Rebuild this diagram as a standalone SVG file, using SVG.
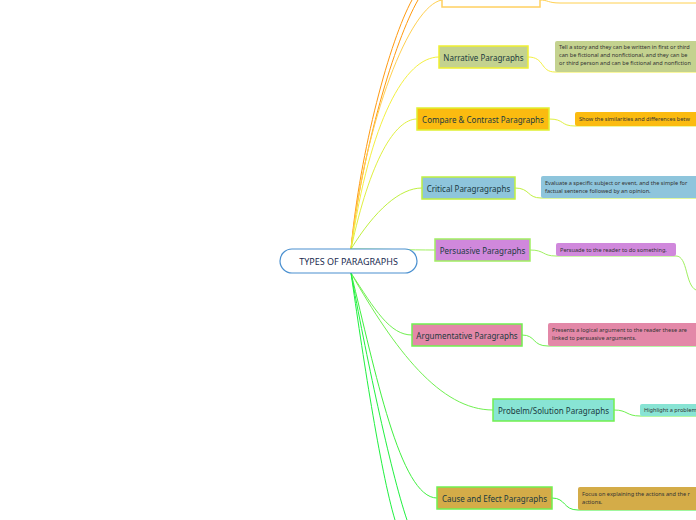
<svg xmlns="http://www.w3.org/2000/svg" width="696" height="520" viewBox="0 0 696 520">
<style>
.n{stroke-width:1.5}
.t{font-family:"Noto Sans","Open Sans",sans-serif;font-size:8px;fill:#1a3a40;text-anchor:middle;dominant-baseline:central}
.d{font-family:"Noto Sans","Open Sans",sans-serif;font-size:5.6px;fill:#333}
.c{fill:none;stroke-width:1}
</style>
<rect width="696" height="520" fill="#fff"/>
<g id="connectors">
<path class="c" stroke="#ff9a10" d="M351,249 C360,150 390,40 412,0"/>
<path class="c" stroke="#ff9a10" d="M351,249 C362,150 395,40 418,0"/>
<path class="c" stroke="#ffd050" d="M351,249 C365,120 410,5 442,0"/>
<path class="c" stroke="#ffd050" d="M540,0 C548,0 548,3 560,3 L696,3"/>
<path class="c" stroke="#f4f040" d="M351,249 C370,120 405,57 439,57"/>
<path class="c" stroke="#f4f040" d="M528,57 C545,57 540,72 555,72 L696,72"/>
<path class="c" stroke="#e0f040" d="M351,249 C370,160 395,119 417,119"/>
<path class="c" stroke="#e0f040" d="M549,119 C565,119 560,126 575,126 L696,126"/>
<path class="c" stroke="#c0f040" d="M351,249 C375,210 400,188 422,188"/>
<path class="c" stroke="#c0f040" d="M515,188 C530,188 527,198 541,198 L696,198"/>
<path class="c" stroke="#a0f060" d="M351,249 C380,249 410,250 435,250"/>
<path class="c" stroke="#a0f060" d="M530,250 C545,250 542,256 556,256 L676,256 C688,256 685,285 696,290"/>
<path class="c" stroke="#70f050" d="M351,273 C375,310 390,335 412,335"/>
<path class="c" stroke="#70f050" d="M522,335 C536,335 532,346 548,346 L696,346"/>
<path class="c" stroke="#70f050" d="M351,273 C395,350 440,410 493,410"/>
<path class="c" stroke="#70f050" d="M614,410 C628,410 626,416 640,416 L696,416"/>
<path class="c" stroke="#40f040" d="M351,273 C375,370 400,498 437,498"/>
<path class="c" stroke="#40f040" d="M552,498 C566,498 563,510 578,510 L696,510"/>
<path class="c" stroke="#20f040" stroke-width="1.5" d="M351,273 C365,350 390,470 407,520"/>
<path class="c" stroke="#20f040" d="M351,273 C362,350 380,470 395,520"/>
</g>
<g id="top"><rect class="n" x="442" y="-10" width="98" height="17" fill="#fff" stroke="#ffd060"/></g>
<g id="center"><rect x="280" y="249" width="137" height="24" rx="12" fill="#fff" stroke="#4a90d0" stroke-width="1.2"/><text class="t" x="348.5" y="261" style="font-size:9px;fill:#1a2a50">TYPES OF PARAGRAPHS</text></g>
<g id="narrative"><rect class="n" x="439" y="46" width="89" height="22" fill="#c4d28f" stroke="#f0f030"/><text class="t" x="483.5" y="57">Narrative Paragraphs</text>
<rect x="555" y="41" width="145" height="31" rx="2" fill="#c4d28f"/><text class="d" x="559" y="49">Tell a story and they can be written in first or third</text><text class="d" x="559" y="57">can be fictional and nonfictional, and they can be</text><text class="d" x="559" y="65">or third person and can be fictional and nonfiction</text></g>
<g id="compare"><rect class="n" x="417" y="108" width="132" height="22" fill="#fbbb10" stroke="#e0f030"/><text class="t" x="483" y="119">Compare &amp; Contrast Paragraphs</text>
<rect x="575" y="112" width="125" height="14" rx="2" fill="#fbbb10"/><text class="d" x="579" y="121">Show the similarities and differences betw</text></g>
<g id="critical"><rect class="n" x="422" y="177" width="93" height="22" fill="#8ec5dc" stroke="#c0f040"/><text class="t" x="468.5" y="188">Critical Paragragraphs</text>
<rect x="541" y="176" width="160" height="22" rx="2" fill="#8ec5dc"/><text class="d" x="545" y="185">Evaluate a specific subject or event, and the simple for</text><text class="d" x="545" y="193">factual sentence followed by an opinion.</text></g>
<g id="persuasive"><rect class="n" x="435" y="239" width="95" height="22" fill="#d088dc" stroke="#a0f060"/><text class="t" x="482.5" y="250">Persuasive Paragraphs</text>
<rect x="556" y="243" width="120" height="13" rx="2" fill="#d088dc"/><text class="d" x="560" y="251.5">Persuade to the reader to do something.</text></g>
<g id="argumentative"><rect class="n" x="412" y="324" width="110" height="22" fill="#e388a8" stroke="#70f050"/><text class="t" x="467" y="335">Argumentative Paragraphs</text>
<rect x="548" y="323" width="152" height="23" rx="2" fill="#e388a8"/><text class="d" x="552" y="332">Presents a logical argument to the reader these are</text><text class="d" x="552" y="340">linked to persuasive arguments.</text></g>
<g id="problem"><rect class="n" x="493" y="399" width="121" height="22" fill="#88e4d4" stroke="#70f050"/><text class="t" x="553.5" y="410">Probelm/Solution Paragraphs</text>
<rect x="640" y="404" width="60" height="12" rx="2" fill="#88e4d4"/><text class="d" x="644" y="412">Highlight a problem</text></g>
<g id="cause"><rect class="n" x="437" y="487" width="115" height="22" fill="#d4ac48" stroke="#70f050"/><text class="t" x="494.5" y="498">Cause and Efect Paragraphs</text>
<rect x="578" y="487" width="122" height="23" rx="2" fill="#d4ac48"/><text class="d" x="582" y="496">Focus on explaining the actions and the r</text><text class="d" x="582" y="504">actions.</text></g>
</svg>
